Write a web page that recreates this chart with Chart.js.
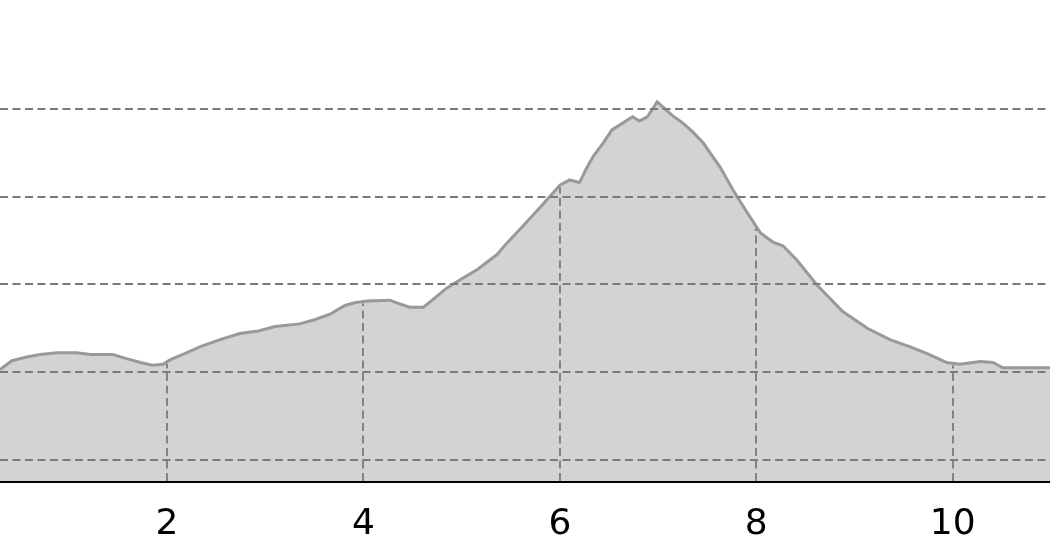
<!DOCTYPE html>
<html>
<head>
<meta charset="utf-8">
<script src="https://cdn.jsdelivr.net/npm/chart.js@4/dist/chart.umd.min.js"></script>
<style>
  html, body { margin: 0; padding: 0; background: #fff; }
  #wrap { width: 1050px; height: 560px; position: relative; }
</style>
</head>
<body>
<div id="wrap"><canvas id="chart"></canvas></div>
<script>
// distance along the profile
const distance = [
  0.30, 0.42, 0.56, 0.71, 0.88, 1.08, 1.22, 1.45, 1.57, 1.73,
  1.85, 1.96, 2.03, 2.18, 2.34, 2.54, 2.74, 2.93, 3.10, 3.35,
  3.51, 3.66, 3.81, 3.91, 4.04, 4.27, 4.34, 4.47, 4.61, 4.70,
  4.85, 5.01, 5.16, 5.36, 5.46, 5.62, 5.80, 6.00, 6.10, 6.20,
  6.27, 6.34, 6.44, 6.53, 6.64, 6.74, 6.81, 6.89, 6.94, 6.99,
  7.05, 7.15, 7.25, 7.35, 7.46, 7.56, 7.63, 7.76, 7.90, 8.04,
  8.17, 8.27, 8.41, 8.62, 8.88, 9.13, 9.36, 9.56, 9.74, 9.94,
  10.07, 10.28, 10.41, 10.51, 10.99
];
// height at each point
const elevation = [
  203, 213, 217, 220, 222, 222, 220, 220, 216, 211,
  208, 209, 214, 221, 229, 237, 244, 247, 252, 255,
  260, 266, 276, 279, 281, 282, 279, 274, 274, 282,
  296, 307, 317, 334, 347, 366, 388, 413, 419, 416,
  432, 446, 461, 476, 484, 491, 486, 491, 499, 508,
  502, 492, 484, 474, 461, 445, 434, 408, 383, 359,
  348, 344, 328, 299, 269, 250, 237, 229, 221, 211,
  209, 212, 211, 205, 205
];
const xTicks = [2, 4, 6, 8, 10];
const yGridValues = [100, 200, 300, 400, 500];

// value of the profile at a given distance (linear between points)
function profileAt(x) {
  for (let i = 1; i < distance.length; i++) {
    if (x <= distance[i]) {
      const t = (x - distance[i - 1]) / (distance[i] - distance[i - 1]);
      return elevation[i - 1] + t * (elevation[i] - elevation[i - 1]);
    }
  }
  return elevation[elevation.length - 1];
}

// dashed grid drawn over the fill; vertical lines stop at the profile
const gridOverFill = {
  id: "gridOverFill",
  afterDatasetsDraw(chart) {
    const { ctx, chartArea, scales } = chart;
    ctx.save();
    ctx.strokeStyle = "#7a7a7a";
    ctx.lineWidth = 1.8;
    ctx.setLineDash([8, 4.5]);
    yGridValues.forEach(v => {
      const py = Math.round(scales.y.getPixelForValue(v));
      ctx.beginPath();
      ctx.moveTo(chartArea.left, py);
      ctx.lineTo(chartArea.right, py);
      ctx.stroke();
    });
    xTicks.forEach(v => {
      const px = Math.round(scales.x.getPixelForValue(v));
      const top = scales.y.getPixelForValue(profileAt(v)) + 2;
      ctx.beginPath();
      ctx.moveTo(px, chartArea.bottom);
      ctx.lineTo(px, top);
      ctx.stroke();
    });
    ctx.restore();
  }
};

const ctx = document.getElementById("chart").getContext("2d");
new Chart(ctx, {
  type: "line",
  data: {
    datasets: [
      {
        data: distance.map((d, i) => ({ x: d, y: elevation[i] })),
        borderColor: "#999999",
        borderWidth: 3,
        backgroundColor: "#d3d3d3",
        fill: "start",
        pointRadius: 0,
        tension: 0
      }
    ]
  },
  options: {
    responsive: true,
    maintainAspectRatio: false,
    animation: false,
    layout: { padding: 0 },
    plugins: {
      legend: { display: false },
      tooltip: { enabled: false }
    },
    scales: {
      x: {
        type: "linear",
        min: 0.3,
        max: 10.99,
        afterBuildTicks: scale => {
          scale.ticks = xTicks.map(v => ({ value: v }));
        },
        afterFit: scale => {
          scale.height = 79;
        },
        grid: { display: false, drawTicks: false },
        border: { display: true, color: "#000000", width: 3 },
        ticks: {
          color: "#000000",
          padding: 22,
          maxRotation: 0,
          font: { family: "DejaVu Sans", size: 36 }
        }
      },
      y: {
        display: false,
        min: 76,
        max: 624
      }
    }
  },
  plugins: [gridOverFill]
});
</script>
</body>
</html>
